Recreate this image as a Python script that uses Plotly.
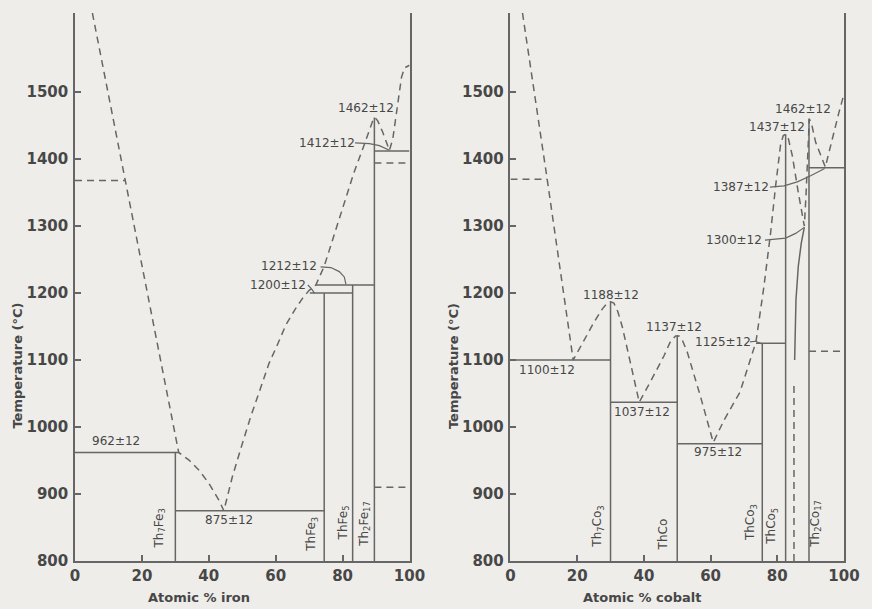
import plotly.graph_objects as go

# ---------------- data : Th–Fe diagram ----------------
fe_liquidus_x = [5.2, 31, 34, 37, 40, 43, 44.5, 47, 49.7, 52.5, 55.6, 58, 60.7, 63, 65.7, 68, 70, 72,
                 74.5, 76.5, 78.5, 81.4, 83.4, 86, 88, 89, 89.6, 90.5, 92, 94, 95, 96.2, 97.6, 98.5, 100]
fe_liquidus_y = [1618, 962, 951, 936, 916, 891, 875, 925, 970, 1015, 1060, 1095, 1125, 1152, 1175, 1192, 1204, 1212,
                 1240, 1272, 1302, 1348, 1380, 1415, 1445, 1457, 1462, 1457, 1440, 1413, 1430, 1473, 1522, 1536, 1540]
fe_solid_segments = [  # (x0, y0, x1, y1)
    (0, 962, 31, 962),        # 962 ± 12
    (30, 800, 30, 962),       # Th7Fe3
    (30, 875, 74.5, 875),     # 875 ± 12
    (74.5, 800, 74.5, 1200),  # ThFe3
    (70.2, 1200, 83, 1200),   # 1200 ± 12
    (83, 800, 83, 1212),      # ThFe5
    (72, 1212, 89.5, 1212),   # 1212 ± 12
    (89.5, 800, 89.5, 1462),  # Th2Fe17
    (89.5, 1412, 100, 1412),  # 1412 ± 12
]
fe_dashed_segments = [
    (0, 1368, 15.1, 1368),
    (89.5, 1394, 100, 1394),
    (89.5, 910, 100, 910),
]
fe_leaders = [
    ([83.7, 88, 91, 94], [1424, 1423, 1420, 1413]),
    ([73.4, 76.5, 79, 80.5, 81], [1239, 1238, 1232, 1224, 1213]),
    ([69.6, 70.6, 71.6], [1212, 1207, 1200]),
]
fe_labels = ["962±12", "875±12", "1200±12", "1212±12", "1412±12", "1462±12"]
fe_label_x = [12.2, 46, 60.6, 64, 75.4, 87]
fe_label_y = [979, 861, 1212, 1240, 1424, 1476]
fe_phases = ["Th<sub>7</sub>Fe<sub>3</sub>", "ThFe<sub>3</sub>", "ThFe<sub>5</sub>", "Th<sub>2</sub>Fe<sub>17</sub>"]
fe_phase_x = [25.3, 71, 80.3, 86.6]
fe_phase_y = [848, 840, 857, 855]

# ---------------- data : Th–Co diagram ----------------
co_liquidus_x = [3.6, 11, 18.8, 22, 25, 27.5, 29, 30, 31, 32.2, 33.5, 36, 38.6, 42, 46, 48, 49.5, 50.5, 51.5, 53,
                 57, 60.8, 64, 68.8, 73.6, 76, 78, 79.5, 81, 81.8, 82.5, 83.2, 84.5, 86.3, 88.1, 88.6, 89.1, 89.6,
                 90.3, 91.5, 94.4, 96.4, 98.5, 100]
co_liquidus_y = [1618, 1370, 1100, 1130, 1156, 1176, 1185, 1187, 1185, 1172, 1150, 1095, 1037, 1068, 1106, 1128, 1136,
                 1136, 1130, 1112, 1045, 977, 1010, 1052, 1127, 1210, 1290, 1360, 1422, 1435, 1437, 1433, 1405, 1350,
                 1300, 1345, 1410, 1460, 1452, 1425, 1388, 1430, 1470, 1497]
co_solid_segments = [
    (0, 1100, 30, 1100),        # 1100 ± 12
    (30, 800, 30, 1187),        # Th7Co3
    (30, 1037, 50, 1037),       # 1037 ± 12
    (50, 800, 50, 1137),        # ThCo
    (50, 975, 75.5, 975),       # 975 ± 12
    (75.5, 800, 75.5, 1125),    # ThCo3
    (73.6, 1125, 82.5, 1125),   # 1125 ± 12
    (82.5, 800, 82.5, 1437),    # ThCo5
    (89.5, 800, 89.5, 1460),    # Th2Co17
    (89.5, 1387, 100, 1387),    # 1387 ± 12
]
co_solvus_x = [85.2, 85.3, 85.6, 86.3, 87.2, 88.1]
co_solvus_y = [1100, 1150, 1190, 1240, 1275, 1298]
co_dashed_segments = [
    (0, 1370, 11, 1370),
    (85, 800, 85, 1065),
    (89.5, 1113, 100, 1113),
]
co_leaders = [
    ([77.8, 82, 86, 90, 94.2], [1358, 1360, 1366, 1375, 1386]),
    ([76.3, 79.5, 82.5, 85.5, 88.1], [1279, 1280, 1282, 1289, 1298]),
    ([71.8, 73.5, 75.5], [1127, 1128, 1124]),
]
co_labels = ["1100±12", "1188±12", "1037±12", "1137±12", "975±12", "1125±12", "1300±12", "1387±12",
             "1437±12", "1462±12"]
co_label_x = [11, 30, 39.5, 49, 62.3, 63.8, 67, 69, 79.8, 87.8]
co_label_y = [1085, 1197, 1022, 1149, 963, 1127, 1279, 1358, 1448, 1475]
co_phases = ["Th<sub>7</sub>Co<sub>3</sub>", "ThCo", "ThCo<sub>3</sub>", "ThCo<sub>5</sub>",
             "Th<sub>2</sub>Co<sub>17</sub>"]
co_phase_x = [26.2, 45.8, 72.2, 78.6, 91.5]
co_phase_y = [851, 840, 857, 852, 855]

x_ticks = [0, 20, 40, 60, 80, 100]
y_ticks = [800, 900, 1000, 1100, 1200, 1300, 1400, 1500]
x_titles = ["Atomic % iron", "Atomic % cobalt"]
y_title = "Temperature (°C)"

# ---------------- styling ----------------
LINE = "#666666"
TEXT = "#474747"
BG = "#eeede9"
DASH = "7px,5px"
FONT = "DejaVu Sans"

fig = go.Figure()


def seg_arrays(segs):
    xs, ys = [], []
    for x0, y0, x1, y1 in segs:
        xs += [x0, x1, None]
        ys += [y0, y1, None]
    return xs, ys


def line(x, y, xa, ya, dashed=False, width=1.5):
    fig.add_trace(go.Scatter(x=x, y=y, mode="lines", xaxis=xa, yaxis=ya,
                             line=dict(color=LINE, width=width, dash=DASH if dashed else "solid"),
                             hoverinfo="skip", showlegend=False, connectgaps=False))


# Th–Fe
line(fe_liquidus_x, fe_liquidus_y, "x", "y", dashed=True)
line(*seg_arrays(fe_solid_segments), "x", "y")
line(*seg_arrays(fe_dashed_segments), "x", "y", dashed=True)
for lx, ly in fe_leaders:
    line(lx, ly, "x", "y", width=1.2)

# Th–Co
line(co_liquidus_x, co_liquidus_y, "x2", "y2", dashed=True)
line(*seg_arrays(co_solid_segments), "x2", "y2")
line(co_solvus_x, co_solvus_y, "x2", "y2")
line(*seg_arrays(co_dashed_segments), "x2", "y2", dashed=True)
for lx, ly in co_leaders:
    line(lx, ly, "x2", "y2", width=1.2)

ann = []
lab_font = dict(family=FONT, size=12, color=TEXT)
for t, x, y in zip(fe_labels, fe_label_x, fe_label_y):
    ann.append(dict(text=t, x=x, y=y, xref="x", yref="y", showarrow=False, font=lab_font))
for t, x, y in zip(co_labels, co_label_x, co_label_y):
    ann.append(dict(text=t, x=x, y=y, xref="x2", yref="y2", showarrow=False, font=lab_font))
for t, x, y in zip(fe_phases, fe_phase_x, fe_phase_y):
    ann.append(dict(text=t, x=x, y=y, xref="x", yref="y", showarrow=False, textangle=-90, font=lab_font))
for t, x, y in zip(co_phases, co_phase_x, co_phase_y):
    ann.append(dict(text=t, x=x, y=y, xref="x2", yref="y2", showarrow=False, textangle=-90, font=lab_font))

title_font = dict(family=FONT, size=13, color=TEXT, weight="bold")
for t, xp in zip(x_titles, [0.161, 0.7375]):
    ann.append(dict(text=t, x=xp, y=-0.0675, xref="paper", yref="paper", showarrow=False,
                    xanchor="center", yanchor="middle", font=title_font))
for xp in [-0.0746, 0.493]:
    ann.append(dict(text=y_title, x=xp, y=0.356, xref="paper", yref="paper", showarrow=False,
                    xanchor="center", yanchor="middle", textangle=-90, font=title_font))

tick_font = dict(family=FONT, size=15, color=TEXT, weight="bold")
xcommon = dict(range=[0, 100], tickvals=x_ticks, ticktext=[str(v) for v in x_ticks], ticks="inside", ticklen=6,
               tickcolor=LINE, tickwidth=1.5, showline=True, linecolor=LINE, linewidth=1.5, showgrid=False,
               zeroline=False, tickfont=tick_font)
ycommon = dict(range=[800, 1618], tickvals=y_ticks, ticktext=[str(v) for v in y_ticks], ticks="inside", ticklen=6,
               tickcolor=LINE, tickwidth=1.5, showline=True, mirror=True, linecolor=LINE, linewidth=1.5,
               showgrid=False, zeroline=False, tickfont=tick_font, ticklabelstandoff=2)

fig.update_layout(
    width=872, height=609,
    margin=dict(l=75, r=20, t=13, b=48),
    paper_bgcolor=BG, plot_bgcolor=BG,
    showlegend=False,
    xaxis=dict(domain=[0, 0.435], anchor="y", **xcommon),
    yaxis=dict(domain=[0, 1], anchor="x", **ycommon),
    xaxis2=dict(domain=[0.5663, 1], anchor="y2", **xcommon),
    yaxis2=dict(domain=[0, 1], anchor="x2", **ycommon),
    annotations=ann,
)

fig.write_html("out.html")
